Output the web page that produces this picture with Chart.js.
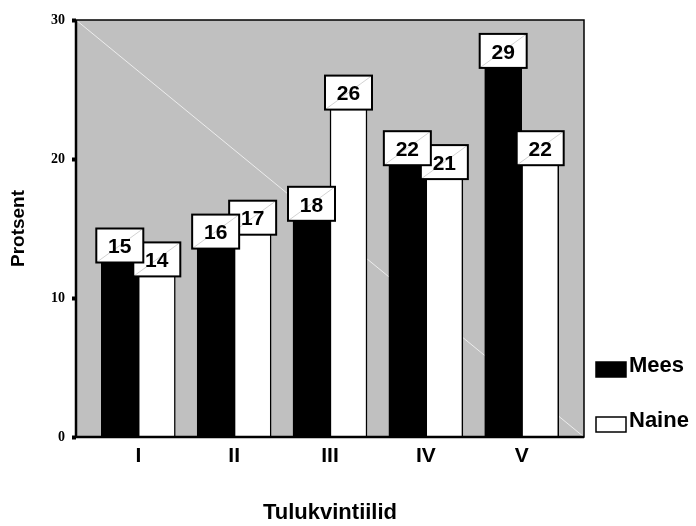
<!DOCTYPE html>
<html>
<head>
<meta charset="utf-8">
<script src="https://cdn.jsdelivr.net/npm/chart.js@4/dist/chart.umd.min.js"></script>
<style>
  body { margin: 0; background: #fff; }
  canvas { display: block; }
</style>
</head>
<body>
<canvas id="chart" width="696" height="526"></canvas>
<script>
// Data
var categories = ['I', 'II', 'III', 'IV', 'V'];
var meesValues = [15, 16, 18, 22, 29];
var naineValues = [14, 17, 26, 21, 22];
var yTicks = [0, 10, 20, 30];

var FONT = '"Liberation Sans", Arial, sans-serif';

function toPoints(values) {
  return values.map(function(v, i) { return { x: i, y: v }; });
}

// plot area background with the faint diagonal
var plotBg = {
  id: 'plotBg',
  beforeDatasetsDraw: function(chart) {
    var a = chart.chartArea, ctx = chart.ctx;
    ctx.save();
    ctx.fillStyle = '#c0c0c0';
    ctx.fillRect(a.left, a.top, a.right - a.left, a.bottom - a.top);
    ctx.strokeStyle = 'rgba(255,255,255,0.7)';
    ctx.lineWidth = 1;
    ctx.beginPath();
    ctx.moveTo(a.left, a.top);
    ctx.lineTo(a.right, a.bottom);
    ctx.stroke();
    ctx.restore();
  },
  afterDatasetsDraw: function(chart) {
    var a = chart.chartArea, ctx = chart.ctx;
    ctx.save();
    ctx.strokeStyle = '#000';
    ctx.lineWidth = 1.5;
    ctx.strokeRect(a.left, a.top, a.right - a.left, a.bottom - a.top);
    ctx.lineWidth = 2.5;
    ctx.beginPath();
    ctx.moveTo(a.left, a.top);
    ctx.lineTo(a.left, a.bottom);
    ctx.lineTo(a.right, a.bottom);
    ctx.stroke();
    ctx.restore();
  }
};

// value boxes on top of the bars, Naine first so Mees boxes sit over them
var valueBoxes = {
  id: 'valueBoxes',
  afterDatasetsDraw: function(chart) {
    var ctx = chart.ctx;
    ctx.save();
    for (var d = chart.data.datasets.length - 1; d >= 0; d--) {
      var meta = chart.getDatasetMeta(d);
      var data = chart.data.datasets[d].data;
      meta.data.forEach(function(bar, i) {
        var w = 47, h = 34;
        var x = bar.x - w / 2, y = bar.y;
        ctx.fillStyle = '#fff';
        ctx.fillRect(x, y, w, h);
        ctx.strokeStyle = 'rgba(160,160,160,0.6)';
        ctx.lineWidth = 0.8;
        ctx.beginPath();
        ctx.moveTo(x, y + h);
        ctx.lineTo(x + w, y);
        ctx.stroke();
        ctx.strokeStyle = '#000';
        ctx.lineWidth = 2;
        ctx.strokeRect(x, y, w, h);
        ctx.fillStyle = '#000';
        ctx.font = 'bold 21px ' + FONT;
        ctx.textAlign = 'center';
        ctx.textBaseline = 'middle';
        ctx.fillText(String(data[i].y), bar.x, y + h / 2 + 2);
      });
    }
    ctx.restore();
  }
};

// legend on the right
var sideLegend = {
  id: 'sideLegend',
  afterDraw: function(chart) {
    var ctx = chart.ctx;
    var rows = [362, 417];
    ctx.save();
    chart.data.datasets.forEach(function(ds, i) {
      var y = rows[i];
      ctx.fillStyle = ds.backgroundColor;
      ctx.fillRect(596, y, 30, 15);
      ctx.strokeStyle = '#000';
      ctx.lineWidth = 1.5;
      ctx.strokeRect(596, y, 30, 15);
      ctx.fillStyle = '#000';
      ctx.font = 'bold 22px ' + FONT;
      ctx.textAlign = 'left';
      ctx.textBaseline = 'alphabetic';
      ctx.fillText(ds.label, 629, y + 10);
    });
    ctx.restore();
  }
};

new Chart(document.getElementById('chart'), {
  type: 'bar',
  data: {
    datasets: [
      {
        label: 'Mees',
        data: toPoints(meesValues),
        backgroundColor: '#000',
        borderColor: '#000',
        borderWidth: 1
      },
      {
        label: 'Naine',
        data: toPoints(naineValues),
        backgroundColor: '#fff',
        borderColor: '#000',
        borderWidth: 1.5
      }
    ]
  },
  options: {
    responsive: false,
    animation: false,
    barThickness: 37,
    layout: { padding: { top: 20, right: 112, left: 0, bottom: 0 } },
    plugins: {
      legend: { display: false },
      tooltip: { enabled: false }
    },
    scales: {
      x: {
        type: 'linear',
        min: -0.65,
        max: 4.65,
        offset: false,
        afterBuildTicks: function(scale) {
          scale.ticks = categories.map(function(c, i) { return { value: i }; });
        },
        afterFit: function(scale) { scale.height = 89; },
        grid: { display: false, drawTicks: false, offset: false },
        border: { display: false },
        ticks: {
          padding: 7,
          color: '#000',
          font: { family: FONT, weight: 'bold', size: 21 },
          callback: function(v) { return categories[v]; }
        },
        title: {
          display: true,
          text: 'Tulukvintiilid',
          color: '#000',
          font: { family: FONT, weight: 'bold', size: 22 },
          padding: { top: 0, bottom: 0 }
        }
      },
      y: {
        min: 0,
        max: 30,
        afterBuildTicks: function(scale) {
          scale.ticks = yTicks.map(function(v) { return { value: v }; });
        },
        afterFit: function(scale) { scale.width = 76; },
        grid: {
          drawOnChartArea: false,
          tickLength: 4,
          tickWidth: 4,
          tickColor: '#000'
        },
        border: { display: false },
        ticks: {
          padding: 7,
          color: '#000',
          font: { family: '"Liberation Serif", "Times New Roman", serif', weight: 'bold', size: 14 }
        },
        title: {
          display: true,
          text: 'Protsent',
          color: '#000',
          font: { family: FONT, weight: 'bold', size: 19 },
          padding: { top: 7, bottom: 0 }
        }
      }
    }
  },
  plugins: [plotBg, valueBoxes, sideLegend]
});
</script>
</body>
</html>
